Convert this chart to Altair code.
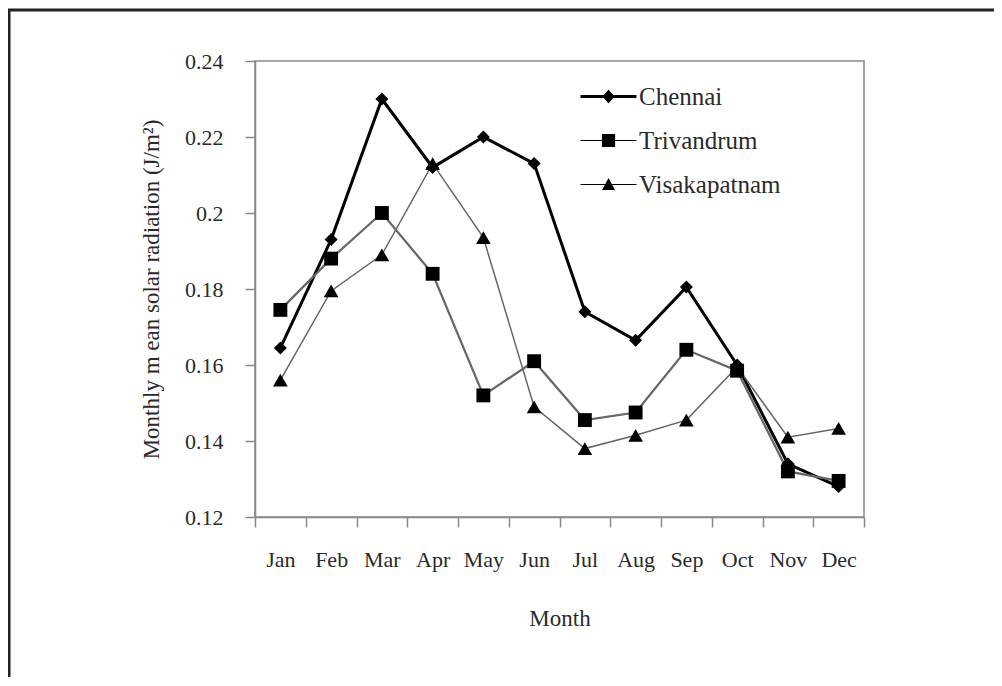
import altair as alt
import pandas as pd

months = ["Jan", "Feb", "Mar", "Apr", "May", "Jun", "Jul", "Aug", "Sep", "Oct", "Nov", "Dec"]
cities = ["Chennai", "Trivandrum", "Visakapatnam"]
chennai = [0.1645, 0.193, 0.230, 0.212, 0.220, 0.213, 0.174, 0.1665, 0.1805, 0.160, 0.134, 0.128]
trivandrum = [0.1745, 0.188, 0.200, 0.184, 0.152, 0.161, 0.1455, 0.1475, 0.164, 0.1585, 0.132, 0.1295]
visakapatnam = [0.156, 0.1795, 0.189, 0.213, 0.1935, 0.149, 0.138, 0.1415, 0.1455, 0.1595, 0.141, 0.1433]
y_ticks = [0.12, 0.14, 0.16, 0.18, 0.2, 0.22, 0.24]

rows = []
for city, vals in zip(cities, [chennai, trivandrum, visakapatnam]):
    for i, (m, v) in enumerate(zip(months, vals)):
        rows.append({"City": city, "Month": m, "Idx": i, "Value": v})
df = pd.DataFrame(rows)

FONT = "Liberation Serif"
TXT = "#2a2a2a"

x_enc = alt.X(
    "Month:N", sort=months,
    scale=alt.Scale(paddingInner=0, paddingOuter=0),
    axis=alt.Axis(title="Month", labelAngle=0, tickBand="extent", tickSize=10,
                  labelPadding=22, titlePadding=37, domainColor="#888", tickColor="#888",
                  domainWidth=1.5, tickWidth=1.5, grid=False),
)
y_enc = alt.Y(
    "Value:Q",
    scale=alt.Scale(domain=[0.12, 0.24], nice=False, zero=False),
    axis=alt.Axis(title="Monthly m ean solar radiation (J/m\u00b2)", values=y_ticks, format=".2~f",
                  tickSize=10, labelPadding=22, titlePadding=21, domainColor="#888",
                  tickColor="#888", domainWidth=1.5, tickWidth=1.5, grid=False),
)

base = alt.Chart(df)

lines = base.mark_line().encode(
    x=x_enc, y=y_enc,
    color=alt.Color("City:N", scale=alt.Scale(domain=cities, range=["#000000", "#666666", "#666666"]), legend=None),
    strokeWidth=alt.StrokeWidth("City:N", scale=alt.Scale(domain=cities, range=[3, 1.5, 1.5]), legend=None),
    order=alt.Order("Idx:Q"),
)

points = base.mark_point(filled=True, color="black", opacity=1).encode(
    x=alt.X("Month:N", sort=months),
    y=alt.Y("Value:Q"),
    shape=alt.Shape("City:N", scale=alt.Scale(domain=cities, range=["diamond", "square", "triangle-up"]), legend=None),
    size=alt.Size("City:N", scale=alt.Scale(domain=cities, range=[170, 215, 185]), legend=None),
)

legend_paths = [
    "M-1,-0.25H8.33V0.25H-1Z M3.67,-1.15L4.67,0L3.67,1.15L2.67,0Z",
    "M-1,-0.1H8.33V0.1H-1Z M2.57,-1.1H4.77V1.1H2.57Z",
    "M-1,-0.1H8.33V0.1H-1Z M3.67,-1.1L4.75,0.9L2.59,0.9Z",
]

legend_layer = base.transform_filter("false").mark_point(filled=True, color="black", opacity=1).encode(
    x=alt.X("Month:N", sort=months),
    y=alt.Y("Value:Q"),
    shape=alt.Shape(
        "City:N",
        scale=alt.Scale(domain=cities, range=legend_paths),
        legend=alt.Legend(
            title=None, orient="none", legendX=319, legendY=23, padding=0,
            symbolSize=144, symbolFillColor="black", symbolStrokeWidth=0, symbolOpacity=1,
            labelFont=FONT, labelFontSize=25, labelColor=TXT, labelOffset=40,
            rowPadding=18,
        ),
    ),
)

frame = alt.Chart(pd.DataFrame({"k": [0]})).mark_rect(
    fill=None, stroke="#222222", strokeWidth=3
).encode(
    x=alt.value(-246), x2=alt.value(1200), y=alt.value(-51), y2=alt.value(1000)
)

chart = alt.layer(frame, lines, points, legend_layer).resolve_scale(
    shape="independent", size="independent"
).properties(
    width=609, height=456,
    autosize=alt.AutoSizeParams(type="none"),
    padding={"left": 247, "top": 53, "right": 130, "bottom": 160},
    background="white",
).configure_view(
    stroke="#888888", strokeWidth=1.5
).configure_axis(
    labelFont=FONT, titleFont=FONT, labelFontSize=22, titleFontSize=23,
    labelColor=TXT, titleColor=TXT, titleFontWeight="normal",
).configure_legend(
    labelFont=FONT, labelFontSize=25, labelColor=TXT,
)

chart.save("out.html", embed_options={"renderer": "svg", "actions": False})
